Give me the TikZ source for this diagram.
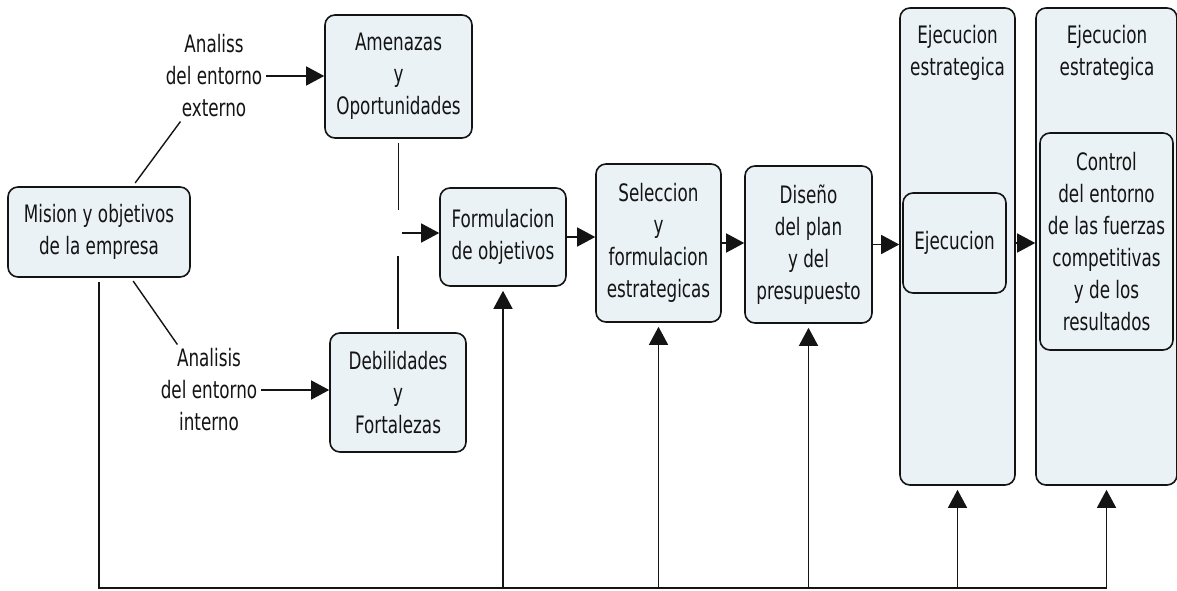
\documentclass[tikz,border=0pt]{standalone}
\usepackage{fontspec}
\setmainfont{DejaVu Sans}[FakeStretch=0.7]
\usetikzlibrary{arrows.meta}
\definecolor{boxfill}{RGB}{235,242,245}
\definecolor{ink}{RGB}{20,20,20}
\begin{document}
\begin{tikzpicture}[x=1pt,y=-1pt,
  font=\fontsize{24}{32}\selectfont,
  box/.style={draw=ink, line width=1.6pt, fill=boxfill, rounded corners=10pt, align=center, inner sep=2pt, text=ink},
  lbl/.style={align=center, inner sep=4pt, text=ink},
  conn/.style={draw=ink, line width=1.4pt},
  arr/.style={conn, -{Triangle[length=18pt,width=19pt]}},
]
\useasboundingbox (0,0) rectangle (1177,591);
\fill[white] (0,0) rectangle (1177,591);

% main boxes
\node[box, minimum width=182pt, minimum height=90pt] (mision) at (99,232) {Mision y objetivos\\de la empresa};
\node[box, minimum width=147pt, minimum height=123pt] (amen) at (398.5,76.5) {Amenazas\\y\\Oportunidades};
\node[box, minimum width=136pt, minimum height=119pt] (deb) at (398,392.5) {Debilidades\\y\\Fortalezas};
\node[box, minimum width=126pt, minimum height=98pt] (form) at (503,237) {Formulacion\\de objetivos};
\node[box, minimum width=125pt, minimum height=158pt] (sel) at (658.5,243) {Seleccion\\y\\formulacion\\estrategicas};
\node[box, minimum width=127pt, minimum height=157pt] (dis) at (808.5,244.5) {Diseño\\del plan\\y del\\presupuesto};

% columns
\node[box, minimum width=115pt, minimum height=477pt] (col1) at (957.5,246.5) {};
\node[lbl] (col1h) at (957.5,53) {Ejecucion\\estrategica};
\node[box, minimum width=141pt, minimum height=477pt] (col2) at (1106.5,246.5) {};
\node[lbl] (col2h) at (1107,53) {Ejecucion\\estrategica};
\node[box, minimum width=103pt, minimum height=100pt] (ejec) at (954.5,243) {Ejecucion};
\node[box, minimum width=133pt, minimum height=217pt] (ctrl) at (1106.5,241.5) {Control\\del entorno\\de las fuerzas\\competitivas\\y de los\\resultados};

% link labels
\node[lbl] (ext) at (214,76) {Analiss\\del entorno\\externo};
\node[lbl] (int) at (209,390) {Analisis\\del entorno\\interno};
\node[minimum width=8pt, minimum height=46pt, inner sep=0pt] (j) at (398,233) {};
\coordinate (bl) at (98,588);

% connectors
\draw[conn, shorten <=4pt] (mision) -- (ext);
\draw[conn, shorten <=4pt] (mision) -- (int);
\draw[arr] (ext.east) -- (ext.east -| amen.west);
\draw[arr] (int.east) -- (int.east -| deb.west);
\draw[conn, shorten <=4pt] (amen.south) -- (amen.south |- j.north);
\draw[conn, shorten <=3pt] (deb.north) -- (deb.north |- j.south);
\draw[arr] (j.east) -- (j.east -| form.west);
\draw[arr] (form.east) -- (form.east -| sel.west);
\draw[arr] (sel.east) -- (sel.east -| dis.west);
\draw[arr] (dis.east) -- (dis.east -| col1.west);
\draw[arr] (ejec.east -| col1.east) -- (ejec.east -| col2.west);

% feedback line
\draw[arr, shorten <=4pt, shorten >=4pt] (mision.south) -- (mision.south |- bl) -| (col2.south);
\draw[arr, shorten >=4pt] (form.south |- bl) -- (form.south);
\draw[arr, shorten >=4pt] (sel.south |- bl) -- (sel.south);
\draw[arr, shorten >=4pt] (dis.south |- bl) -- (dis.south);
\draw[arr, shorten >=4pt] (col1.south |- bl) -- (col1.south);
\end{tikzpicture}
\end{document}
